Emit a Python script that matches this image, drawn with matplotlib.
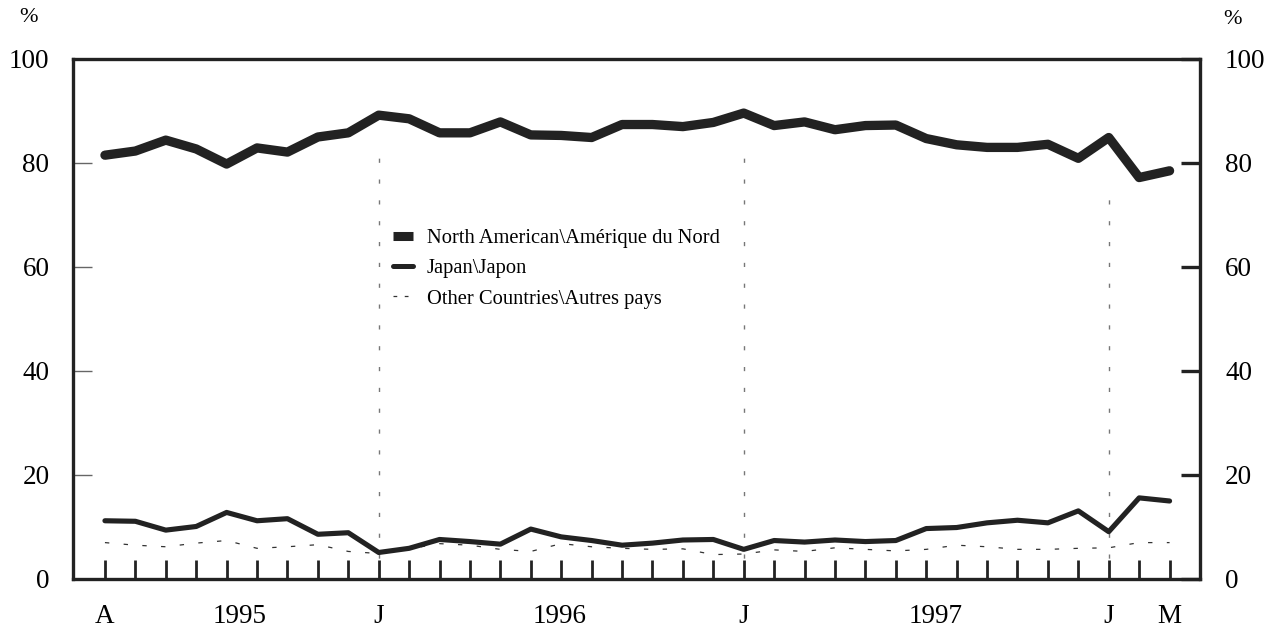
import matplotlib
matplotlib.use("Agg")
import matplotlib.pyplot as plt
from matplotlib.lines import Line2D
import numpy as np

plt.rcParams['font.family'] = ['Liberation Serif', 'DejaVu Serif']

# Monthly data, April 1994 .. March 1997 (36 months)
north_america = [81.5, 82.3, 84.4, 82.7, 79.8, 82.9, 82.1, 85.0, 85.8, 89.2,
                 88.5, 85.8, 85.8, 87.9, 85.4, 85.3, 84.9, 87.4, 87.4, 87.0,
                 87.8, 89.6, 87.2, 87.9, 86.4, 87.2, 87.3, 84.7, 83.5, 83.0,
                 83.0, 83.6, 80.9, 84.9, 77.2, 78.5]
japan = [11.2, 11.1, 9.4, 10.1, 12.8, 11.2, 11.6, 8.6, 8.9, 5.1,
         5.9, 7.6, 7.2, 6.7, 9.6, 8.1, 7.4, 6.5, 6.9, 7.5,
         7.6, 5.7, 7.4, 7.1, 7.5, 7.2, 7.4, 9.7, 9.9, 10.8,
         11.3, 10.8, 13.1, 9.1, 15.6, 15.0]
other = [7.0, 6.5, 6.2, 6.9, 7.4, 5.9, 6.2, 6.6, 5.3, 4.9,
         5.8, 6.8, 6.5, 5.7, 5.3, 6.8, 6.2, 5.9, 5.7, 5.8,
         4.7, 4.8, 5.6, 5.3, 6.0, 5.7, 5.4, 5.7, 6.5, 6.2,
         5.7, 5.7, 5.9, 6.0, 7.0, 7.0]

x_label_pos = [0, 4.43, 9, 14.95, 21, 27.3, 33, 35]
x_label_text = ['A', '1995', 'J', '1996', 'J', '1997', 'J', 'M']
january_idx = [9, 21, 33]
january_top = [81.5, 83.5, 74.0]
y_ticks = [0, 20, 40, 60, 80, 100]

series_labels = ['North American\\Amérique du Nord', 'Japan\\Japon',
                 'Other Countries\\Autres pays']

W, H = 1276, 628
fig = plt.figure(figsize=(W / 100, H / 100), dpi=100)
ax = fig.add_axes([73 / W, 1 - 579 / H, (1200 - 73) / W, (579 - 59) / H])

months = np.arange(len(north_america))
dark = '#222222'

ax.vlines(january_idx, 0, january_top, colors='#777777', linewidth=1.0,
          linestyles=(0, (3, 12)), zorder=1)

ax.plot(months, other, color='#333333', linewidth=0.9, dashes=(3.5, 11.5), zorder=2)
ax.plot(months, japan, color=dark, linewidth=3.7, solid_capstyle='round', zorder=3)
ax.plot(months, north_america, color=dark, linewidth=6.7, solid_capstyle='round', zorder=4)

ax.set_xlim(-1.05, 36.0)
ax.set_ylim(0, 100)

for s in ax.spines.values():
    s.set_linewidth(2.4)
    s.set_color(dark)

ax.xaxis.remove_overlapping_locs = False
ax.set_xticks(months)
ax.set_xticklabels([])
ax.tick_params(axis='x', which='major', direction='in', length=14, width=2.0,
               color=dark)
ax.set_xticks(x_label_pos, x_label_text, minor=True)
ax.tick_params(axis='x', which='minor', length=0, pad=18, labelsize=19.5)

ax.set_yticks(y_ticks)
ax.tick_params(axis='y', which='major', direction='in', length=14, width=1.0,
               color='#666666', pad=17, labelsize=19.5)

ax2 = ax.twinx()
ax2.set_ylim(0, 100)
ax2.set_yticks(y_ticks)
ax2.tick_params(axis='y', direction='in', length=14, width=2.4, color=dark,
                pad=18, labelsize=19.5)
for s in ax2.spines.values():
    s.set_visible(False)

fig.text(29 / W, 1 - 17 / H, '%', ha='center', va='center', fontsize=16)
fig.text(1233 / W, 1 - 20 / H, '%', ha='center', va='center', fontsize=16)

handles = [Line2D([], [], color=dark, linewidth=6.5, solid_capstyle='butt'),
           Line2D([], [], color=dark, linewidth=3.6, solid_capstyle='round'),
           Line2D([], [], color='#333333', linewidth=0.9, dashes=(3, 6))]
leg = fig.legend(handles, series_labels, loc='upper left',
                 bbox_to_anchor=(393 / W, 1 - 229 / H), frameon=False,
                 fontsize=14.8, handlelength=0.95, handletextpad=0.7,
                 borderpad=0, borderaxespad=0, labelspacing=0.52)

fig.savefig('out.png', dpi=100)
